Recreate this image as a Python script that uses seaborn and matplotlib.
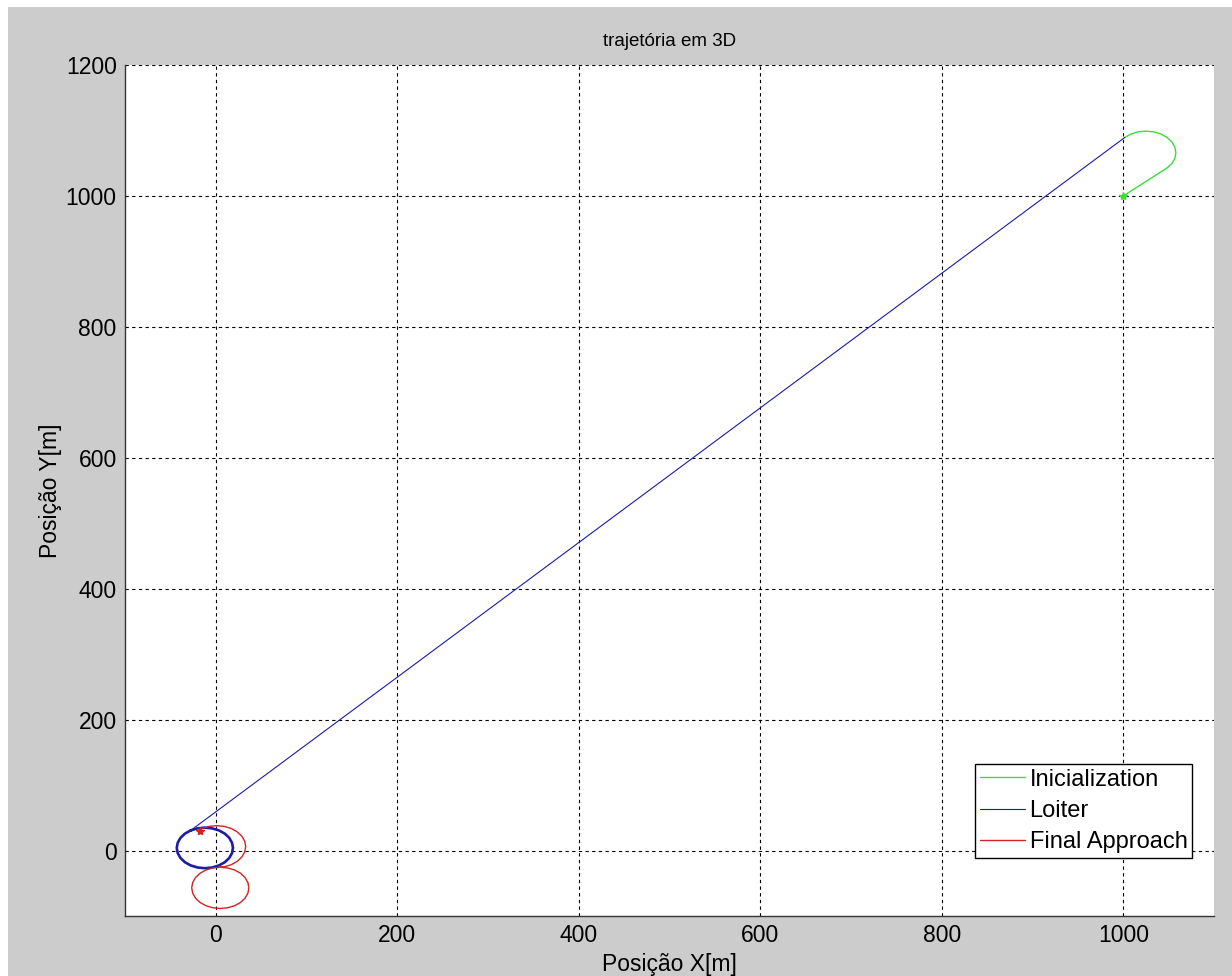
import matplotlib
matplotlib.use('Agg')
import matplotlib.pyplot as plt
from matplotlib.patches import Rectangle
import pandas as pd
import seaborn as sns


# trajectory points (metres)
init_x = [1000, 1048.3, 1053.6, 1056.9, 1058, 1056.9, 1053.6, 1048.3, 1041.5,
          1033.5, 1025, 1016.5, 1008.5, 1001.7]
init_y = [1000, 1042.7, 1049.5, 1057.5, 1066, 1074.5, 1082.5, 1089.3, 1094.6,
          1097.9, 1099, 1097.9, 1094.6, 1089.3]

leg_x = [1001.7, -27.5]
leg_y = [1089.3, 30.8]

loiter_x = [-27.5, -33.9, -38.8, -41.9, -43, -41.9, -38.8, -33.9, -27.5, -20.0,
            -12, -4.0, 3.5, 9.9, 14.8, 17.9, 19, 17.9, 14.8, 9.9, 3.5, -4.0,
            -12, -20.0, -27.5]
loiter_y = [30.8, 25.9, 19.5, 12.0, 4, -4.0, -11.5, -17.9, -22.8, -25.9,
            -27, -25.9, -22.8, -17.9, -11.5, -4.0, 4, 12.0, 19.5, 25.9, 30.8, 33.9,
            35, 33.9, 30.8]

final_x = [-17.6, -15, -7.3, 1, 9.3, 17, 23.6, 28.7, 31.9, 33, 31.9, 28.7, 23.6,
           17, 9.3, 1, -3.2, -10.8, -17.3, -22.3, -25.4, -26.5, -25.4, -22.3,
           -17.3, -10.8, -3.2, 5, 13.2, 20.8, 27.3, 32.3, 35.4, 36.5, 35.4, 32.3,
           27.3, 20.8, 13.2, 5]
final_y = [30.6, 33.7, 36.9, 38, 36.9, 33.7, 28.6, 22, 14.3, 6, -2.3, -10, -16.6,
           -21.7, -24.9, -26, -26.6, -29.7, -34.7, -41.3, -48.8, -57, -65.2, -72.8,
           -79.3, -84.3, -87.4, -88.5, -87.4, -84.3, -79.3, -72.8, -65.2, -57, -48.8,
           -41.3, -34.7, -29.7, -26.6, -25.5]

x_ticks = [0, 200, 400, 600, 800, 1000]
y_ticks = [0, 200, 400, 600, 800, 1000, 1200]

GREEN = '#3ade3a'
BLUE = '#1c1ca8'
RED = '#d02424'


def main():
    sns.set_style('white')
    plt.rcParams['font.family'] = ['Liberation Sans', 'DejaVu Sans']
    plt.rcParams['text.color'] = 'black'
    plt.rcParams['axes.labelcolor'] = 'black'

    fig = plt.figure(figsize=(12.32, 9.76), dpi=100)
    fig.patch.set_facecolor('white')
    # gray figure area (window has a thin white margin on left and top)
    fig.add_artist(Rectangle((8 / 1232, 0), 1, 1 - 7 / 976,
                             transform=fig.transFigure,
                             facecolor='#cccccc', edgecolor='none', zorder=-10))

    ax = fig.add_axes([125 / 1232, 1 - 916 / 976, 1089 / 1232, 851 / 976])
    ax.set_facecolor('white')

    df_init = pd.DataFrame({'x': init_x, 'y': init_y})
    df_leg = pd.DataFrame({'x': leg_x, 'y': leg_y})
    df_loit = pd.DataFrame({'x': loiter_x, 'y': loiter_y})
    df_final = pd.DataFrame({'x': final_x, 'y': final_y})

    sns.lineplot(data=df_init, x='x', y='y', sort=False, estimator=None,
                 color=GREEN, lw=1.0, ax=ax, label='Inicialization')
    sns.lineplot(data=df_leg, x='x', y='y', sort=False, estimator=None,
                 color=BLUE, lw=0.8, ax=ax, label='Loiter')
    sns.lineplot(data=df_loit, x='x', y='y', sort=False, estimator=None,
                 color=BLUE, lw=1.9, ax=ax, label='_nolegend_')
    sns.lineplot(data=df_final, x='x', y='y', sort=False, estimator=None,
                 color=RED, lw=1.0, ax=ax, label='Final Approach')

    ax.plot(init_x[0], init_y[0], marker='*', color=GREEN, ms=6, ls='none')
    ax.plot(final_x[0], final_y[0], marker='*', color=RED, ms=6, ls='none')

    ax.set_xlim(-100, 1100)
    ax.set_ylim(-100, 1200)
    ax.set_xticks(x_ticks)
    ax.set_yticks(y_ticks)
    ax.grid(True, color='black', linestyle=(0, (3, 3)), lw=0.8)
    ax.set_axisbelow(True)

    for side in ['top', 'right']:
        ax.spines[side].set_visible(False)
    for side in ['left', 'bottom']:
        ax.spines[side].set_color('#333333')
        ax.spines[side].set_linewidth(1.0)
    ax.tick_params(direction='in', length=5, labelsize=16.5, colors='#333333',
                   labelcolor='black', pad=6)

    ax.set_xlabel('Posição X[m]', fontsize=16.5, labelpad=4)
    ax.set_ylabel('Posição Y[m]', fontsize=16.5, labelpad=3)
    ax.set_title('trajetória em 3D', fontsize=13.5, pad=14)

    leg = ax.legend(loc='lower right', bbox_to_anchor=(0.98, 0.068),
                    borderaxespad=0, fontsize=17, frameon=True, fancybox=False,
                    handlelength=1.9, handletextpad=0.2, labelspacing=0.4,
                    borderpad=0.2)
    leg.get_frame().set_edgecolor('black')
    leg.get_frame().set_linewidth(1.0)
    leg.get_frame().set_alpha(1)

    fig.savefig('out.png', dpi=100, facecolor=fig.get_facecolor())
    plt.close(fig)


if __name__ == '__main__':
    main()
